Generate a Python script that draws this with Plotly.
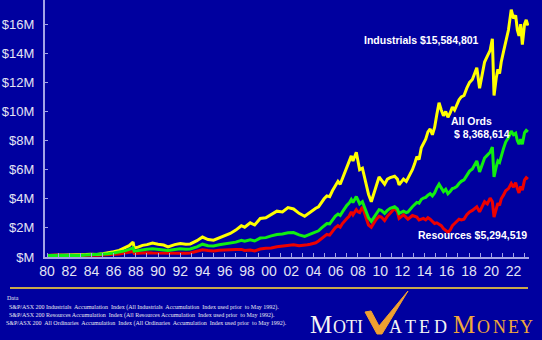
import plotly.graph_objects as go

# ---------------- data (values in $ millions) ----------------
years = [1980.0, 1980.5, 1981.0, 1981.5, 1982.0, 1982.5, 1983.0, 1983.5, 1984.0, 1984.5,
         1985.0, 1985.5, 1986.0, 1986.5, 1987.0, 1987.4, 1987.75, 1987.85, 1988.2, 1988.6,
         1989.0, 1989.5, 1990.0, 1990.5, 1990.9, 1991.5, 1992.0, 1992.5, 1992.9, 1993.5,
         1994.0, 1994.5, 1995.0, 1995.5, 1996.0, 1996.5, 1997.0, 1997.5, 1997.8, 1998.3,
         1998.7, 1999.2, 1999.7, 2000.2, 2000.7, 2001.2, 2001.7, 2002.2, 2002.7, 2003.2,
         2003.45, 2003.7, 2003.95, 2004.2, 2004.45, 2004.7, 2004.95, 2005.2, 2005.45, 2005.7,
         2005.95, 2006.2, 2006.4, 2006.6, 2006.8, 2007.0, 2007.2, 2007.4, 2007.55, 2007.85,
         2008.0, 2008.15, 2008.4, 2008.55, 2008.75, 2008.95, 2009.2, 2009.4, 2009.6, 2009.9,
         2010.1, 2010.4, 2010.65, 2010.9, 2011.3, 2011.55, 2011.7, 2012.1, 2012.35, 2012.5,
         2012.9, 2013.1, 2013.3, 2013.5, 2013.7, 2013.9, 2014.1, 2014.3, 2014.5, 2014.7,
         2014.9, 2015.1, 2015.3, 2015.5, 2015.7, 2015.9, 2016.1, 2016.3, 2016.5, 2016.7,
         2016.9, 2017.1, 2017.3, 2017.55, 2017.8, 2018.05, 2018.3, 2018.5, 2018.7, 2018.95,
         2019.15, 2019.4, 2019.65, 2019.9, 2020.1, 2020.25, 2020.45, 2020.6, 2020.75, 2020.9,
         2021.1, 2021.3, 2021.55, 2021.8, 2022.0, 2022.2, 2022.35, 2022.5, 2022.65, 2022.8,
         2023.0, 2023.15, 2023.3]

industrials = [0.10, 0.11, 0.11, 0.12, 0.11, 0.10, 0.13, 0.17, 0.19, 0.18,
               0.23, 0.28, 0.36, 0.45, 0.62, 0.78, 1.03, 0.62, 0.68, 0.80,
               0.85, 0.96, 0.88, 0.82, 0.70, 0.85, 0.92, 0.88, 0.90, 1.12,
               1.37, 1.20, 1.15, 1.30, 1.45, 1.62, 1.85, 2.15, 2.05, 2.35,
               2.20, 2.65, 2.70, 2.95, 3.15, 3.10, 3.40, 3.30, 3.00, 2.80,
               2.95, 3.05, 3.20, 3.35, 3.45, 3.75, 4.00, 4.20, 4.15, 4.55,
               4.90, 5.20, 5.00, 5.40, 5.80, 6.20, 6.50, 6.95, 6.60, 7.20,
               6.60, 6.00, 6.10, 5.60, 4.90, 4.30, 3.80, 4.30, 4.80, 5.50,
               5.30, 5.00, 5.35, 5.45, 5.55, 5.35, 4.95, 5.35, 5.20, 5.40,
               6.00, 6.40, 6.90, 6.70, 7.50, 7.80, 8.10, 8.60, 8.80, 8.40,
               8.90, 9.80, 10.60, 10.10, 9.70, 10.00, 9.60, 9.90, 10.30, 10.10,
               10.50, 10.80, 11.00, 11.10, 11.60, 12.00, 12.20, 12.60, 13.00, 11.60,
               12.50, 13.40, 13.80, 14.20, 15.00, 11.10, 12.30, 12.90, 12.60, 13.40,
               14.10, 14.70, 15.60, 17.00, 16.40, 16.60, 15.60, 15.20, 16.00, 14.60,
               16.00, 16.30, 15.90]

all_ords = [0.10, 0.12, 0.12, 0.11, 0.10, 0.09, 0.11, 0.14, 0.16, 0.15,
            0.18, 0.22, 0.27, 0.32, 0.42, 0.52, 0.62, 0.40, 0.45, 0.52,
            0.53, 0.56, 0.52, 0.49, 0.44, 0.52, 0.56, 0.53, 0.55, 0.70,
            0.88, 0.78, 0.76, 0.84, 0.90, 0.92, 1.02, 1.15, 1.08, 1.18,
            1.10, 1.30, 1.33, 1.45, 1.55, 1.58, 1.66, 1.68, 1.52, 1.42,
            1.50, 1.55, 1.62, 1.72, 1.80, 1.98, 2.15, 2.30, 2.28, 2.55,
            2.80, 2.95, 2.85, 3.10, 3.35, 3.55, 3.70, 3.95, 3.75, 4.15,
            3.90, 3.65, 3.80, 3.50, 3.05, 2.70, 2.45, 2.70, 2.95, 3.25,
            3.20, 3.00, 3.20, 3.35, 3.45, 3.30, 3.00, 3.15, 3.05, 3.10,
            3.45, 3.60, 3.75, 3.70, 3.95, 4.05, 4.10, 4.25, 4.35, 4.20,
            4.40, 4.75, 5.00, 4.75, 4.50, 4.65, 4.35, 4.50, 4.70, 4.75,
            4.85, 5.05, 5.20, 5.30, 5.65, 5.90, 6.05, 6.30, 6.60, 5.85,
            6.30, 6.80, 7.00, 7.20, 7.55, 5.50, 6.20, 6.60, 6.50, 7.00,
            7.45, 7.90, 8.20, 8.65, 8.40, 8.50, 8.00, 7.75, 8.10, 7.75,
            8.55, 8.70, 8.60]

resources = [0.10, 0.13, 0.13, 0.11, 0.08, 0.07, 0.09, 0.12, 0.13, 0.12,
             0.14, 0.16, 0.19, 0.21, 0.28, 0.34, 0.38, 0.24, 0.26, 0.30,
             0.30, 0.28, 0.27, 0.28, 0.25, 0.28, 0.28, 0.26, 0.28, 0.38,
             0.50, 0.45, 0.42, 0.46, 0.50, 0.50, 0.52, 0.52, 0.45, 0.48,
             0.42, 0.55, 0.60, 0.62, 0.70, 0.75, 0.80, 0.84, 0.78, 0.80,
             0.84, 0.88, 0.92, 0.98, 1.10, 1.25, 1.40, 1.55, 1.50, 1.75,
             2.00, 2.15, 2.05, 2.30, 2.50, 2.65, 2.80, 3.10, 2.90, 3.25,
             3.10, 3.05, 3.45, 3.10, 2.55, 2.20, 2.05, 2.30, 2.55, 2.80,
             2.75, 2.50, 2.80, 3.00, 3.35, 3.10, 2.65, 2.90, 2.70, 2.60,
             2.85, 2.80, 2.75, 2.55, 2.60, 2.65, 2.55, 2.70, 2.60, 2.45,
             2.30, 2.35, 2.25, 2.15, 1.95, 1.85, 1.70, 1.85, 2.15, 2.30,
             2.45, 2.60, 2.55, 2.60, 2.90, 3.10, 3.20, 3.35, 3.45, 3.10,
             3.40, 3.80, 3.65, 4.05, 3.80, 2.75, 3.30, 3.70, 3.55, 4.00,
             4.25, 4.55, 4.70, 5.05, 4.80, 5.10, 4.70, 4.40, 4.85, 4.60,
             5.30, 5.45, 5.35]

x_tick_years = list(range(1980, 2024))
x_tick_labels = [f"{y % 100:02d}" if y % 2 == 0 else "" for y in x_tick_years]
y_tick_values = [0, 2, 4, 6, 8, 10, 12, 14, 16]
y_tick_labels = ["$M", "$2M", "$4M", "$6M", "$8M", "$10M", "$12M", "$14M", "$16M"]

series_labels = ["Industrials $15,584,801", "All Ords", "$ 8,368,614", "Resources $5,294,519"]
footnotes = [
    "Data",
    "S&amp;P/ASX 200 Industrials  Accumulation  Index (All Industrials  Accumulation  Index used prior  to May 1992).",
    "S&amp;P/ASX 200 Resources Accumulation  Index (All Resources Accumulation  Index used prior  to May 1992).",
    "S&amp;P/ASX 200  All Ordinaries  Accumulation  Index (All Ordinaries  Accumulation  Index used prior  to May 1992).",
]

# ---------------- styling ----------------
W, H = 542, 340
L, R, T, B = 45, 13, 0, 83
PW, PH = W - L - R, H - T - B
BG = "#00009f"
AXIS = "#a3a3e6"
TICKTXT = "#e4e4f4"


def px(xp):
    return (xp - L) / PW


def py(yp):
    return (H - B - yp) / PH


fig = go.Figure()
for vals, color in [(resources, "#ee0000"), (industrials, "#ffff00"), (all_ords, "#11ee11")]:
    fig.add_trace(go.Scatter(x=years, y=vals, mode="lines",
                             line=dict(color=color, width=3), hoverinfo="skip"))

fig.update_layout(
    width=W, height=H,
    margin=dict(l=L, r=R, t=T, b=B),
    paper_bgcolor=BG, plot_bgcolor=BG,
    showlegend=False,
    xaxis=dict(range=[1979.82, 2023.4], tickmode="array", tickvals=x_tick_years,
               ticktext=x_tick_labels, ticks="inside", ticklen=4, tickwidth=1,
               tickcolor=AXIS, showline=True, linecolor=AXIS, linewidth=2,
               showgrid=False, zeroline=False,
               tickfont=dict(family="Liberation Sans", size=14, color=TICKTXT)),
    yaxis=dict(range=[0, 17.66], tickmode="array", tickvals=y_tick_values,
               ticktext=y_tick_labels, ticks="inside", ticklen=3, tickwidth=1,
               tickcolor=AXIS, showline=True, linecolor=AXIS, linewidth=2,
               showgrid=False, zeroline=False, ticklabelstandoff=6,
               tickfont=dict(family="Liberation Sans", size=13, color=TICKTXT)),
)

ann = []
# series labels
for text, xl, yc in [(series_labels[0], 362, 40), (series_labels[1], 449, 121),
                     (series_labels[2], 452, 134), (series_labels[3], 416, 235)]:
    ann.append(dict(text=f"<b>{text}</b>", xref="paper", yref="paper", x=px(xl), y=py(yc),
                    xanchor="left", yanchor="middle", showarrow=False,
                    font=dict(family="Liberation Sans", size=10.5, color="white")))

# footnotes
for text, xl, yc in [(footnotes[0], 5, 298), (footnotes[1], 7, 307),
                     (footnotes[2], 7, 315), (footnotes[3], 4, 323)]:
    ann.append(dict(text=text, xref="paper", yref="paper", x=px(xl), y=py(yc),
                    xanchor="left", yanchor="middle", showarrow=False,
                    font=dict(family="Liberation Serif", size=6, color="#e8e8f0")))

# logo letters
WHITE, GOLD = "#f4f4f4", "#f0a83a"
letters = [("M", 321, 25, WHITE), ("O", 339, 18, WHITE), ("T", 351, 18, WHITE), ("I", 360, 18, WHITE),
           ("A", 395, 18, WHITE), ("T", 410, 18, WHITE), ("E", 424, 18, WHITE), ("D", 440, 18, WHITE),
           ("M", 464, 25, GOLD), ("O", 483, 18, GOLD), ("N", 499, 18, GOLD), ("E", 513, 18, GOLD),
           ("Y", 526, 18, GOLD)]
for ch, xc, sz, col in letters:
    yc = 324 if sz > 20 else 326.5
    ann.append(dict(text=ch, xref="paper", yref="paper", x=px(xc), y=py(yc),
                    xanchor="center", yanchor="middle", showarrow=False,
                    font=dict(family="Liberation Serif", size=sz, color=col)))
fig.update_layout(annotations=ann)

# gold rule
fig.add_shape(type="line", xref="paper", yref="paper", x0=px(10), x1=px(528),
              y0=py(288), y1=py(288), line=dict(color="#c9a84a", width=2))

# check mark
pts = [(365, 312), (371, 311), (379, 326), (408, 291), (382, 334), (377, 334)]
path = "M " + " L ".join(f"{px(a):.4f},{py(b):.4f}" for a, b in pts) + " Z"
fig.add_shape(type="path", xref="paper", yref="paper", path=path,
              fillcolor="#f0a030", line=dict(color="#f0a030", width=1))

fig.write_html("out.html")
